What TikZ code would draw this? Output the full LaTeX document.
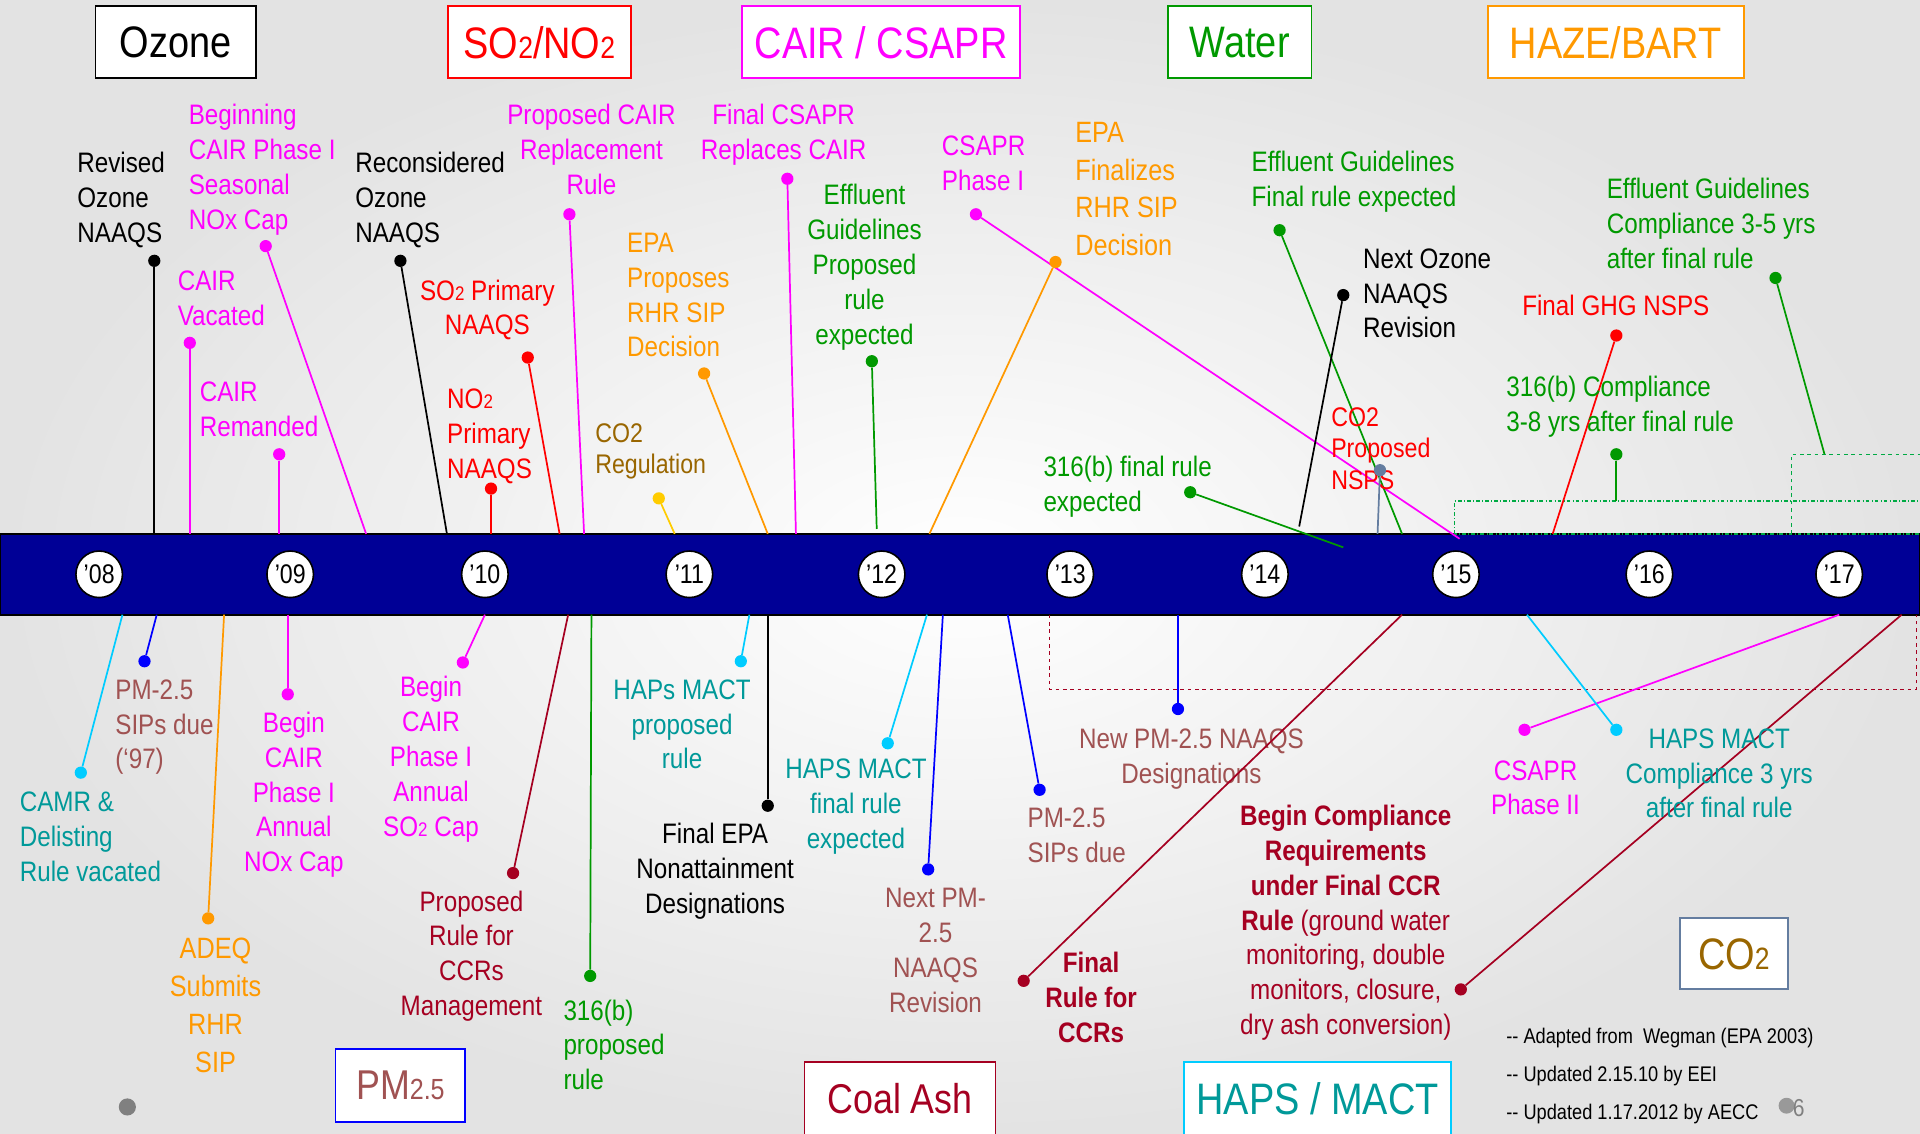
\documentclass[tikz,border=0pt]{standalone}
\usepackage{fontspec}
\setmainfont{Liberation Sans}[FakeStretch=0.86]
\usepackage{tikz}
\usetikzlibrary{positioning}
\definecolor{barC}{RGB}{0,0,150}
\definecolor{magC}{RGB}{255,0,255}
\definecolor{grnC}{RGB}{0,153,0}
\definecolor{orgC}{RGB}{255,153,0}
\definecolor{tealC}{RGB}{0,153,153}
\definecolor{cyanC}{RGB}{0,204,255}
\definecolor{pmC}{RGB}{160,82,82}
\definecolor{bluC}{RGB}{0,0,255}
\definecolor{ashC}{RGB}{165,0,33}
\definecolor{goldC}{RGB}{153,102,0}
\definecolor{yelC}{RGB}{255,204,0}
\definecolor{slateC}{RGB}{100,125,160}
\definecolor{dashG}{RGB}{0,170,68}
\newcommand{\smallnum}[1]{\scalebox{0.7}{#1}}
\tikzset{
  lbl/.style={inner sep=0pt, font=\fontsize{23}{28.5}\selectfont, align=left, anchor=base west},
  clbl/.style={inner sep=0pt, font=\fontsize{23}{28.5}\selectfont, align=center, anchor=base},
  evdot/.style={circle, fill=#1, inner sep=0pt, minimum size=10pt},
  link/.style={line width=1.4pt},
  yrcirc/.style={circle, draw=black, fill=white, line width=1.3pt, minimum size=38pt, inner sep=0pt, font=\fontsize{22}{22}\selectfont},
  catbox/.style={draw=#1, line width=1.5pt, fill=white, inner sep=0pt, minimum height=59pt, font=\fontsize{36}{36}\selectfont}
}
\begin{document}
\begin{tikzpicture}[x=1pt, y=-1pt]
\useasboundingbox (0,0) rectangle (1568,926);
\shade[inner color=white, outer color=gray!22] (0,0) rectangle (1568,926);

% category boxes
\node[catbox=black, minimum width=131pt] (ozone) at (143.5,34.5) {Ozone};
\node[catbox=red, text=red, minimum width=149pt] (sono) at (440.5,34.5) {SO\smallnum{2}/NO\smallnum{2}};
\node[catbox=magC, text=magC, minimum width=227pt] (cair) at (719.5,34.5) {CAIR / CSAPR};
\node[catbox=grnC, text=grnC, minimum width=117pt] (water) at (1012.5,34.5) {Water};
\node[catbox=orgC, text=orgC, minimum width=209pt] (haze) at (1319.5,34.5) {HAZE/BART};
\node[catbox=bluC, text=pmC, minimum width=106pt, font=\fontsize{34}{34}\selectfont] (pm) at (327,886.5) {PM\smallnum{2.5}};
\node[catbox=ashC, text=ashC, minimum width=156pt, font=\fontsize{34}{34}\selectfont] (coal) at (735,897) {Coal Ash};
\node[catbox=cyanC, text=tealC, minimum width=218pt] (haps) at (1076,897) {HAPS / MACT};
\node[catbox=slateC, text=goldC, minimum width=88pt, minimum height=58pt] (co2) at (1416,779) {CO\smallnum{2}};

% time line
\fill[barC, draw=black, line width=1.5pt] (0,436) rectangle (1568,502);
\draw[dashG, dash dot, line width=1.2pt] (1188,436) rectangle (1580,409);
\draw[dashG, dashed, line width=1.2pt] (1463,436) -- (1463,371) -- (1580,371);
\draw[ashC, dashed, line width=1.2pt] (857,502) -- (857,563) -- (1565,563) -- (1565,502);

% events above the line (labels sit on the baseline of their last line)
\node[lbl] (revoz) at (63,198) {Revised\\Ozone\\NAAQS};
\node[evdot=black] (revoz-d) at (126,213) {}; \coordinate (revoz-b) at (126,436);
\draw[link, black] (revoz-d) -- (revoz-b);
\node[lbl, text=magC] (begseas) at (154,187.5) {Beginning\\CAIR Phase I\\Seasonal\\NOx Cap};
\node[evdot=magC] (begseas-d) at (217,201) {}; \coordinate (begseas-b) at (299,436);
\draw[link, magC] (begseas-d) -- (begseas-b);
\node[lbl, text=magC] (vac) at (145,265.5) {CAIR\\Vacated};
\node[evdot=magC] (vac-d) at (155,280) {}; \coordinate (vac-b) at (155,436);
\draw[link, magC] (vac-d) -- (vac-b);
\node[lbl, text=magC] (rem) at (163,356.5) {CAIR\\Remanded};
\node[evdot=magC] (rem-d) at (228,371) {}; \coordinate (rem-b) at (228,436);
\draw[link, magC] (rem-d) -- (rem-b);
\node[lbl] (recoz) at (290,198) {Reconsidered\\Ozone\\NAAQS};
\node[evdot=black] (recoz-d) at (327,213) {}; \coordinate (recoz-b) at (365,436);
\draw[link, black] (recoz-d) -- (recoz-b);
\node[clbl, text=red] (so2p) at (398,273.5) {SO\smallnum{2} Primary\\NAAQS};
\node[evdot=red] (so2p-d) at (431,292) {}; \coordinate (so2p-b) at (457,436);
\draw[link, red] (so2p-d) -- (so2p-b);
\node[lbl, text=red] (no2p) at (365,391) {NO\smallnum{2}\\Primary\\NAAQS};
\node[evdot=red] (no2p-d) at (401,399) {}; \coordinate (no2p-b) at (401,436);
\draw[link, red] (no2p-d) -- (no2p-b);
\node[clbl, text=magC] (propcair) at (483,159) {Proposed CAIR\\Replacement\\Rule};
\node[evdot=magC] (propcair-d) at (465,175) {}; \coordinate (propcair-b) at (477,436);
\draw[link, magC] (propcair-d) -- (propcair-b);
\node[lbl, text=orgC] (rhrprop) at (512,291.5) {EPA\\Proposes\\RHR SIP\\Decision};
\node[evdot=orgC] (rhrprop-d) at (575,305) {}; \coordinate (rhrprop-b) at (627,436);
\draw[link, orgC] (rhrprop-d) -- (rhrprop-b);
\node[lbl, text=goldC, font=\fontsize{22}{26}\selectfont] (co2reg) at (486,387) {CO2\\Regulation};
\node[evdot=yelC] (co2reg-d) at (538,407) {}; \coordinate (co2reg-b) at (551,436);
\draw[link, yelC] (co2reg-d) -- (co2reg-b);
\node[clbl, text=magC] (csaprfin) at (640,130.5) {Final CSAPR\\Replaces CAIR};
\node[evdot=magC] (csaprfin-d) at (643,146) {}; \coordinate (csaprfin-b) at (650,436);
\draw[link, magC] (csaprfin-d) -- (csaprfin-b);
\node[clbl, text=grnC] (effprop) at (706,281) {Effluent\\Guidelines\\Proposed\\rule\\expected};
\node[evdot=grnC] (effprop-d) at (712,295) {}; \coordinate (effprop-b) at (716,432);
\draw[link, grnC] (effprop-d) -- (effprop-b);
\node[lbl, text=magC] (csapr1) at (769,155.5) {CSAPR\\Phase I};
\node[evdot=magC] (csapr1-d) at (797,175) {}; \coordinate (csapr1-b) at (1192,440);
\draw[link, magC] (csapr1-d) -- (csapr1-b);
\node[lbl, text=orgC, font=\fontsize{24}{31}\selectfont] (rhrfin) at (878,209) {EPA\\Finalizes\\RHR SIP\\Decision};
\node[evdot=orgC] (rhrfin-d) at (862,214) {}; \coordinate (rhrfin-b) at (759,436);
\draw[link, orgC] (rhrfin-d) -- (rhrfin-b);
\node[lbl, text=grnC] (efffin) at (1022,168.5) {Effluent Guidelines\\Final rule expected};
\node[evdot=grnC] (efffin-d) at (1045,188) {}; \coordinate (efffin-b) at (1145,436);
\draw[link, grnC] (efffin-d) -- (efffin-b);
\node[lbl] (nextoz) at (1113,276) {Next Ozone\\NAAQS\\Revision};
\node[evdot=black] (nextoz-d) at (1097,241) {}; \coordinate (nextoz-b) at (1061,430);
\draw[link, black] (nextoz-d) -- (nextoz-b);
\node[lbl, text=grnC] (b316fin) at (852,417.5) {316(b) final rule\\expected};
\node[evdot=grnC] (b316fin-d) at (972,402) {}; \coordinate (b316fin-b) at (1097,447);
\draw[link, grnC] (b316fin-d) -- (b316fin-b);
\node[lbl, text=red, font=\fontsize{22}{26}\selectfont] (co2nsps) at (1087,400) {CO2\\Proposed\\NSPS};
\node[evdot=slateC] (co2nsps-d) at (1127,384) {}; \coordinate (co2nsps-b) at (1125,436);
\draw[link, slateC] (co2nsps-d) -- (co2nsps-b);
\node[lbl, text=red] (ghg) at (1243,258) {Final GHG NSPS};
\node[evdot=red] (ghg-d) at (1320,274) {}; \coordinate (ghg-b) at (1268,436);
\draw[link, red] (ghg-d) -- (ghg-b);
\node[lbl, text=grnC] (b316comp) at (1230,352.5) {316(b) Compliance\\3-8 yrs after final rule};
\node[evdot=grnC] (b316comp-d) at (1320,371) {}; \coordinate (b316comp-b) at (1320,409);
\draw[link, grnC] (b316comp-d) -- (b316comp-b);
\node[lbl, text=grnC] (effcomp) at (1312,219) {Effluent Guidelines\\Compliance 3-5 yrs\\after final rule};
\node[evdot=grnC] (effcomp-d) at (1450,227) {}; \coordinate (effcomp-b) at (1490,371);
\draw[link, grnC] (effcomp-d) -- (effcomp-b);

% events below the line
\node[lbl, text=tealC] (camr) at (16,720) {CAMR \&\\Delisting\\Rule vacated};
\node[evdot=cyanC] (camr-d) at (66,631) {}; \coordinate (camr-b) at (100,502);
\draw[link, cyanC] (camr-b) -- (camr-d);
\node[lbl, text=pmC] (pmsip) at (94,628) {PM-2.5\\SIPs due\\(`97)};
\node[evdot=bluC] (pmsip-d) at (118,540) {}; \coordinate (pmsip-b) at (128,502);
\draw[link, bluC] (pmsip-b) -- (pmsip-d);
\node[clbl, text=orgC, font=\fontsize{24}{31}\selectfont] (adeq) at (176,876) {ADEQ\\Submits\\RHR\\SIP};
\node[evdot=orgC] (adeq-d) at (170,750) {}; \coordinate (adeq-b) at (183,502);
\draw[link, orgC] (adeq-b) -- (adeq-d);
\node[clbl, text=magC] (begnox) at (240,712) {Begin\\CAIR\\Phase I\\Annual\\NOx Cap};
\node[evdot=magC] (begnox-d) at (235,567) {}; \coordinate (begnox-b) at (235,502);
\draw[link, magC] (begnox-b) -- (begnox-d);
\node[clbl, text=magC] (begso2) at (352,683) {Begin\\CAIR\\Phase I\\Annual\\SO\smallnum{2} Cap};
\node[evdot=magC] (begso2-d) at (378,541) {}; \coordinate (begso2-b) at (396,502);
\draw[link, magC] (begso2-b) -- (begso2-d);
\node[clbl, text=ashC] (ccrprop) at (385,829.5) {Proposed\\Rule for\\CCRs\\Management};
\node[evdot=ashC] (ccrprop-d) at (419,713) {}; \coordinate (ccrprop-b) at (464,502);
\draw[link, ashC] (ccrprop-b) -- (ccrprop-d);
\node[lbl, text=grnC] (b316prop) at (460,890) {316(b)\\proposed\\rule};
\node[evdot=grnC] (b316prop-d) at (482,797) {}; \coordinate (b316prop-b) at (483,502);
\draw[link, grnC] (b316prop-b) -- (b316prop-d);
\node[clbl, text=tealC] (hapsprop) at (557,628) {HAPs MACT\\proposed\\rule};
\node[evdot=cyanC] (hapsprop-d) at (605,540) {}; \coordinate (hapsprop-b) at (612,502);
\draw[link, cyanC] (hapsprop-b) -- (hapsprop-d);
\node[clbl] (nonatt) at (584,746) {Final EPA\\Nonattainment\\Designations};
\node[evdot=black] (nonatt-d) at (627,658) {}; \coordinate (nonatt-b) at (627,502);
\draw[link, black] (nonatt-b) -- (nonatt-d);
\node[clbl, text=tealC] (hapsfin) at (699,693) {HAPS MACT\\final rule\\expected};
\node[evdot=cyanC] (hapsfin-d) at (725,607) {}; \coordinate (hapsfin-b) at (757,502);
\draw[link, cyanC] (hapsfin-b) -- (hapsfin-d);
\node[clbl, text=pmC] (nextpm) at (764,826.5) {Next PM-\\2.5\\NAAQS\\Revision};
\node[evdot=bluC] (nextpm-d) at (758,710) {}; \coordinate (nextpm-b) at (770,502);
\draw[link, bluC] (nextpm-b) -- (nextpm-d);
\node[lbl, text=pmC] (pmsip2) at (839,704.5) {PM-2.5\\SIPs due};
\node[evdot=bluC] (pmsip2-d) at (849,645) {}; \coordinate (pmsip2-b) at (823,502);
\draw[link, bluC] (pmsip2-b) -- (pmsip2-d);
\node[clbl, text=pmC] (newpm) at (973,639.5) {New PM-2.5 NAAQS\\Designations};
\node[evdot=bluC] (newpm-d) at (962,579) {}; \coordinate (newpm-b) at (962,502);
\draw[link, bluC] (newpm-b) -- (newpm-d);
\node[clbl, text=ashC, font=\fontsize{23}{28.5}\selectfont\bfseries] (ccrfin) at (891,851) {Final\\Rule for\\CCRs};
\node[evdot=ashC] (ccrfin-d) at (836,801) {}; \coordinate (ccrfin-b) at (1145,502);
\draw[link, ashC] (ccrfin-b) -- (ccrfin-d);
\node[clbl, text=ashC] (ccrcomp) at (1099,845) {\textbf{Begin Compliance}\\\textbf{Requirements}\\\textbf{under Final CCR}\\\textbf{Rule} (ground water\\monitoring, double\\monitors, closure,\\dry ash conversion)};
\node[evdot=ashC] (ccrcomp-d) at (1193,808) {}; \coordinate (ccrcomp-b) at (1553,502);
\draw[link, ashC] (ccrcomp-b) -- (ccrcomp-d);
\node[clbl, text=magC] (csapr2) at (1254,665.5) {CSAPR\\Phase II};
\node[evdot=magC] (csapr2-d) at (1245,596) {}; \coordinate (csapr2-b) at (1502,502);
\draw[link, magC] (csapr2-b) -- (csapr2-d);
\node[clbl, text=tealC] (hapscomp) at (1404,668) {HAPS MACT\\Compliance 3 yrs\\after final rule};
\node[evdot=cyanC] (hapscomp-d) at (1320,596) {}; \coordinate (hapscomp-b) at (1247,502);
\draw[link, cyanC] (hapscomp-b) -- (hapscomp-d);

% years
\node[yrcirc] (y08) at (81,469) {'08};
\node[yrcirc] (y09) at (237,469) {'09};
\node[yrcirc] (y10) at (396,469) {'10};
\node[yrcirc] (y11) at (563,469) {'11};
\node[yrcirc] (y12) at (720,469) {'12};
\node[yrcirc] (y13) at (874,469) {'13};
\node[yrcirc] (y14) at (1033,469) {'14};
\node[yrcirc] (y15) at (1189,469) {'15};
\node[yrcirc] (y16) at (1347,469) {'16};
\node[yrcirc] (y17) at (1502,469) {'17};

% notes
\node[lbl, font=\fontsize{17.3}{31}\selectfont] (notes) at (1230,914) {-{}- Adapted from\ \ Wegman (EPA 2003)\\-{}- Updated 2.15.10 by EEI\\-{}- Updated 1.17.2012 by AECC};
\node[evdot=gray, minimum size=14pt] (mark) at (104,904) {};
\node[evdot=gray!80, minimum size=13pt] (pgmark) at (1459,903) {};
\node[inner sep=0pt, text=gray, font=\fontsize{20}{20}\selectfont] (pgno) at (1469,905) {6};
\end{tikzpicture}
\end{document}
